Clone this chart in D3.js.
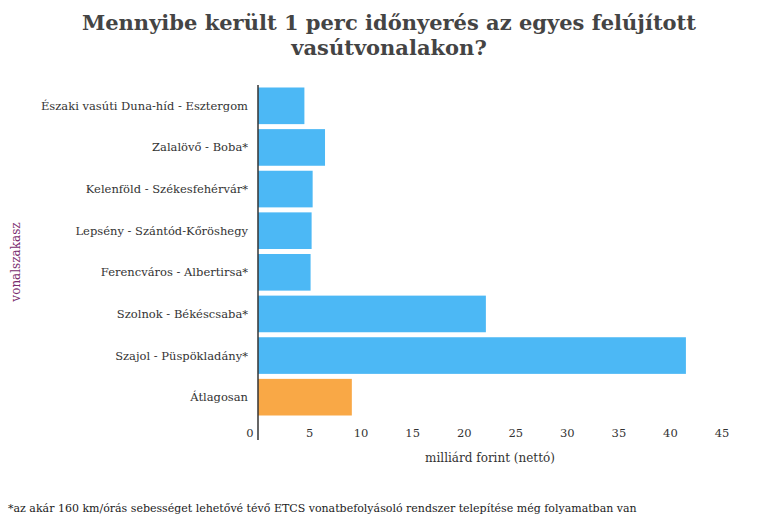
<!DOCTYPE html>
<html><head><meta charset="utf-8">
<script src="https://cdn.jsdelivr.net/npm/d3@7"></script>
<style>body{margin:0;background:#fff}</style></head>
<body><svg id="chart" width="778" height="524"></svg>
<script>
const lines = ['Északi vasúti Duna-híd - Esztergom','Zalalövő - Boba*','Kelenföld - Székesfehérvár*','Lepsény - Szántód-Kőröshegy','Ferencváros - Albertirsa*','Szolnok - Békéscsaba*','Szajol - Püspökladány*','Átlagosan'];
const costs = [4.5, 6.5, 5.3, 5.2, 5.1, 22.1, 41.5, 9.1];
const ticks = [0,5,10,15,20,25,30,35,40,45];

const svg = d3.select('#chart');
const font = 'DejaVu Serif, Georgia, serif';
const x = d3.scaleLinear().domain([0,45]).range([258,722]);
const y = d3.scaleBand().domain(lines).range([85,418]).paddingInner(0.12).paddingOuter(0.06);

svg.append('text').attr('x',389).attr('y',30).attr('text-anchor','middle')
  .attr('font-family',font).attr('font-weight','bold').attr('font-size',21).attr('fill','#444')
  .text('Mennyibe került 1 perc időnyerés az egyes felújított');
svg.append('text').attr('x',389).attr('y',55).attr('text-anchor','middle')
  .attr('font-family',font).attr('font-weight','bold').attr('font-size',21).attr('fill','#444')
  .text('vasútvonalakon?');

svg.selectAll('rect.bar').data(lines).join('rect').attr('class','bar')
  .attr('x',x(0)).attr('y',d=>y(d)).attr('height',y.bandwidth())
  .attr('width',(d,i)=>x(costs[i])-x(0))
  .attr('fill',d=>d==='Átlagosan'?'#f9a846':'#4cb8f5');

svg.selectAll('text.cat').data(lines).join('text').attr('class','cat')
  .attr('x',248).attr('y',d=>y(d)+y.bandwidth()/2).attr('dy','0.35em').attr('text-anchor','end')
  .attr('font-family',font).attr('font-size',11.5).attr('fill','#333').text(d=>d);

svg.append('line').attr('x1',x(0)).attr('x2',x(0)).attr('y1',85).attr('y2',440).attr('stroke','#333').attr('stroke-width',1.5);

svg.selectAll('text.tick').data(ticks).join('text').attr('class','tick')
  .attr('x',d=>x(d)+(d===0?-8:0)).attr('y',437).attr('text-anchor','middle')
  .attr('font-family',font).attr('font-size',11.5).attr('fill','#333').text(d=>d);

svg.append('text').attr('x',490).attr('y',462).attr('text-anchor','middle')
  .attr('font-family',font).attr('font-size',12).attr('fill','#333').text('milliárd forint (nettó)');
svg.append('text').attr('transform','translate(20,262) rotate(-90)').attr('text-anchor','middle')
  .attr('font-family',font).attr('font-size',12).attr('fill','#7a2d6e').text('vonalszakasz');
svg.append('text').attr('x',8).attr('y',512)
  .attr('font-family',font).attr('font-size',11).attr('fill','#222')
  .text('*az akár 160 km/órás sebességet lehetővé tévő ETCS vonatbefolyásoló rendszer telepítése még folyamatban van');
</script></body></html>
